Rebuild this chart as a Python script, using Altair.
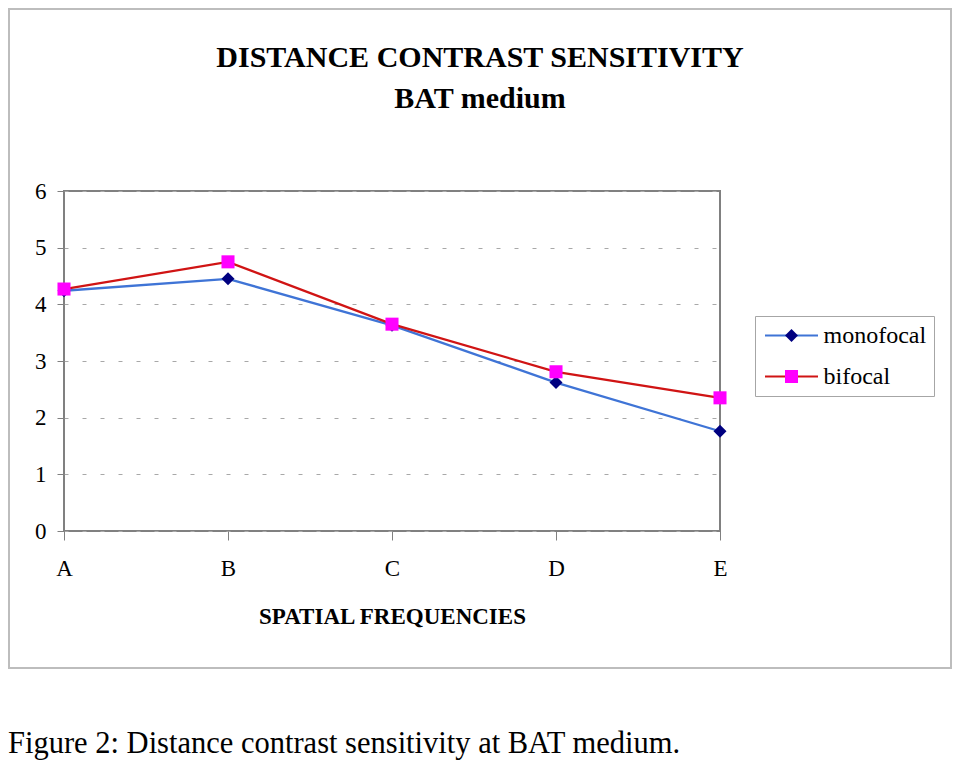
import altair as alt
import pandas as pd

categories = ["A", "B", "C", "D", "E"]
series_names = ["monofocal", "bifocal"]
monofocal = [4.24, 4.45, 3.63, 2.62, 1.76]
bifocal = [4.27, 4.75, 3.65, 2.81, 2.35]
y_ticks = [0, 1, 2, 3, 4, 5, 6]

title_lines = ["DISTANCE CONTRAST SENSITIVITY", "BAT medium"]
x_title = "SPATIAL FREQUENCIES"
caption = "Figure 2: Distance contrast sensitivity at BAT medium."

line_colors = ["#3F74D6", "#D01414"]
marker_colors = ["#000080", "#FF00FF"]
marker_shapes = ["diamond", "square"]

rows = []
for i, (name, vals) in enumerate(zip(series_names, [monofocal, bifocal])):
    for c, v in zip(categories, vals):
        rows.append({"freq": c, "value": v, "series": name, "sidx": i})
df = pd.DataFrame(rows)
series_idx = list(range(len(series_names)))

FONT = "Liberation Serif"

x_enc = alt.X(
    "freq:N",
    sort=categories,
    scale=alt.Scale(type="point", padding=0),
    axis=alt.Axis(
        title=x_title,
        labelAngle=0,
        domain=False,
        ticks=True,
        tickSize=9,
        tickColor="#808080",
        labelPadding=17,
        labelFontSize=23,
        titleFontSize=23,
        titleFontWeight="bold",
        titlePadding=25,
    ),
)
y_enc = alt.Y(
    "value:Q",
    scale=alt.Scale(domain=[0, 6], nice=False, zero=True),
    axis=alt.Axis(
        title=None,
        values=y_ticks,
        domain=False,
        tickSize=7,
        tickColor="#808080",
        labelPadding=11,
        labelFontSize=23,
        grid=True,
        gridColor="#a8a8a8",
        gridDash=[4, 14],
        gridWidth=1,
    ),
)

common_legend = dict(
    title=None,
    orient="none",
    legendX=691,
    legendY=125,
    padding=7.5,
    labelFont=FONT,
    labelFontSize=24,
    rowPadding=17,
    symbolOffset=17,
    labelOffset=20,
)

line_legend = alt.Legend(
    **common_legend,
    strokeColor="#a6a6a6",
    labelColor="black",
    symbolType="M-5.3,0L5.3,0",
    symbolSize=100,
    symbolStrokeWidth=2,
    zindex=1,
)

marker_legend = alt.Legend(
    **common_legend,
    labelColor="black",
    labelExpr="''",
    symbolSize=170,
    symbolStrokeWidth=0,
    symbolOpacity=1,
    zindex=2,
)

frame = alt.Chart(pd.DataFrame({"k": [0]})).mark_rect(
    fillOpacity=0, stroke="#bdbdbd", strokeWidth=2
).encode(
    x=alt.value(-55), x2=alt.value(887), y=alt.value(-182), y2=alt.value(477)
)

title_mark = alt.Chart(pd.DataFrame({"t": ["\n".join(title_lines)]})).mark_text(
    align="center", baseline="top", font=FONT, fontSize=30, fontWeight="bold",
    color="black", lineBreak="\n", lineHeight=41,
).encode(text="t:N", x=alt.value(416), y=alt.value(-148))

lines = alt.Chart(df).mark_line(strokeWidth=2.3).encode(
    x=x_enc,
    y=y_enc,
    stroke=alt.Stroke(
        "series:N",
        scale=alt.Scale(domain=series_names, range=line_colors),
        legend=line_legend,
    ),
    detail="series:N",
)

points = alt.Chart(df).mark_point(filled=True, opacity=1, size=170).encode(
    x=x_enc,
    y=y_enc,
    color=alt.Color(
        "sidx:O",
        scale=alt.Scale(domain=series_idx, range=marker_colors),
        legend=marker_legend,
    ),
    shape=alt.Shape(
        "sidx:O",
        scale=alt.Scale(domain=series_idx, range=marker_shapes),
        legend=marker_legend,
    ),
)

cap = alt.Chart(pd.DataFrame({"t": [caption]})).mark_text(
    align="left", baseline="middle", font=FONT, fontSize=30.5, color="black"
).encode(text="t:N", x=alt.value(-56), y=alt.value(553))

chart = alt.layer(frame, title_mark, lines, points, cap).properties(
    width=656,
    height=340,
    autosize=alt.AutoSizeParams(type="none"),
    padding={"left": 56, "top": 183, "right": 232, "bottom": 231},
    background="white",
).configure_view(
    stroke="#808080", strokeWidth=2
).configure_axis(
    labelFont=FONT, titleFont=FONT, labelColor="black", titleColor="black"
)

chart.save("out.html", embed_options={"renderer": "svg", "actions": False})
